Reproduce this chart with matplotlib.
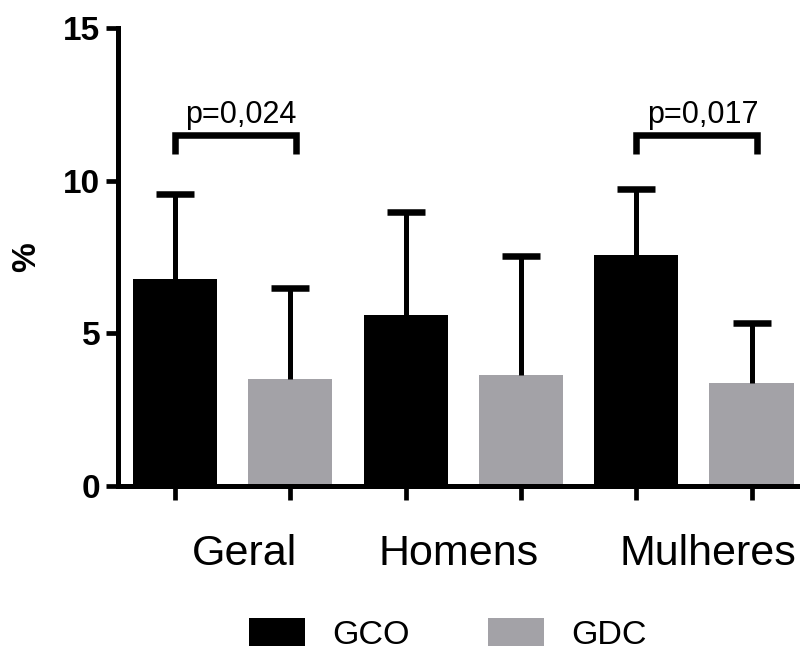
import matplotlib
matplotlib.use("Agg")
import matplotlib.pyplot as plt
import numpy as np
from matplotlib.patches import Patch

# ---- data ----
categories = ["Geral", "Homens", "Mulheres"]
series_names = ["GCO", "GDC"]
gco_mean = [6.78, 5.59, 7.57]
gco_sd = [2.77, 3.39, 2.17]
gdc_mean = [3.52, 3.62, 3.36]
gdc_sd = [2.96, 3.91, 1.97]
y_ticks = [0, 5, 10, 15]
p_labels = ["p=0,024", None, "p=0,017"]

# ---- style ----
plt.rcParams['font.family'] = ['Liberation Sans', 'DejaVu Sans']
col_gco = "#000000"
col_gdc = "#a3a2a7"
bar_w = 0.73
lw_axis = 3.6

fig = plt.figure(figsize=(8, 6.5), dpi=100)
ax = fig.add_axes([118/800, 1-486/650, 1-118/800, (486-28)/650])

n = len(categories)
x_gco = np.arange(n) * 2
x_gdc = x_gco + 1

ax.bar(x_gco, gco_mean, width=bar_w, color=col_gco, zorder=2)
ax.bar(x_gdc, gdc_mean, width=bar_w, color=col_gdc, zorder=2)
for xs, m, s in [(x_gco, gco_mean, gco_sd), (x_gdc, gdc_mean, gdc_sd)]:
    eb = ax.errorbar(xs, m, yerr=[np.zeros(n), s], fmt='none', ecolor='black',
                     elinewidth=3.6, capsize=13.7, capthick=4.7, zorder=3)
    caps = eb[1]
    if len(caps) == 2:
        caps[0].set_visible(False)

ax.set_xlim(-0.494, 5.42)
ax.set_ylim(0, 15)
ax.set_yticks(y_ticks)
ax.set_yticklabels([str(t) for t in y_ticks], fontsize=24, fontweight='bold')
ax.set_xticks(np.concatenate([x_gco, x_gdc]))
ax.set_xticklabels([])
ax.tick_params(axis='y', length=8.6, width=3.4, pad=4.3)
ax.tick_params(axis='x', length=10, width=3.4)

for sp in ['top', 'right']:
    ax.spines[sp].set_visible(False)
for sp in ['left', 'bottom']:
    ax.spines[sp].set_linewidth(lw_axis)
ax.spines['left'].set_bounds(0, 15)

# category labels
label_dx = [0.1, -0.04, 0.12]
for i, c in enumerate(categories):
    ax.annotate(c, xy=(x_gco[i] + 0.5 + label_dx[i], 0),
                xycoords=('data', 'axes fraction'),
                xytext=(0, -57), textcoords='offset points',
                ha='center', va='baseline', fontsize=31, annotation_clip=False)

# significance brackets
for i, p in enumerate(p_labels):
    if p is None:
        continue
    x0 = x_gco[i]
    x1 = x_gdc[i] + 0.05
    ax.plot([x0, x0, x1, x1], [10.86, 11.48, 11.48, 10.86], color='black',
            lw=4.7, solid_joinstyle='miter', solid_capstyle='butt', zorder=3)
    ax.text((x0 + x1) / 2 + 0.05, 11.875, p, ha='center', va='baseline', fontsize=22)

fig.text(27/800, 1-257/650, "%", rotation=90, ha='center', va='center',
         fontsize=24, fontweight='bold')

handles = [Patch(facecolor=col_gco, edgecolor='none'),
           Patch(facecolor=col_gdc, edgecolor='none')]
fig.legend(handles, series_names, loc='upper left', bbox_to_anchor=(249/800, 1-618/650),
           ncol=2, frameon=False, fontsize=24.5, handlelength=1.65, handleheight=0.9,
           handletextpad=0.8, columnspacing=2.3, borderpad=0, borderaxespad=0)

fig.savefig("out.png", dpi=100)
